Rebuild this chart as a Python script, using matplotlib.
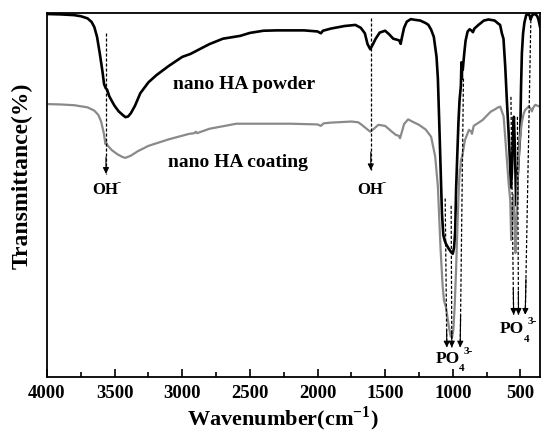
import matplotlib
matplotlib.use("Agg")
from matplotlib import pyplot as plt
from matplotlib.ticker import MultipleLocator

plt.rcParams['font.family'] = ['Liberation Serif', 'DejaVu Serif']
plt.rcParams['font.weight'] = 'bold'
plt.rcParams['mathtext.fontset'] = 'custom'
plt.rcParams['mathtext.rm'] = 'Liberation Serif:bold'
plt.rcParams['mathtext.bf'] = 'Liberation Serif:bold'

# FTIR spectra (wavenumber cm-1, transmittance in arbitrary %)
powder_wn = [4000, 3900, 3800, 3750, 3700, 3670, 3650, 3630, 3610, 3590, 3578, 3566, 3556,
             3540, 3520, 3500, 3470, 3440, 3420, 3400, 3380, 3350, 3310, 3250, 3190, 3100,
             3000, 2940, 2800, 2700, 2570, 2500, 2400, 2300, 2200, 2100, 2000, 1975, 1960,
             1900, 1800, 1720, 1680, 1650, 1630, 1610, 1590, 1570, 1540, 1500, 1470, 1440,
             1410, 1395, 1385, 1375, 1360, 1340, 1310, 1280, 1240, 1200, 1180, 1160, 1140,
             1120, 1110, 1100, 1090, 1080, 1070, 1060, 1050, 1030, 1015, 1000, 990, 982,
             975, 965, 958, 950, 940, 936, 933, 930, 926, 920, 915, 905, 890, 875, 860, 851,
             840, 810, 770, 735, 690, 665, 650, 637, 625, 612, 600, 587, 578, 570, 563, 555,
             548, 540, 533, 527, 520, 510, 501, 495, 489, 480, 470, 457, 440, 430, 425, 420,
             410, 390, 375, 366, 355]
powder_t = [99.8, 99.7, 99.5, 99.2, 98.6, 97.6, 96.2, 93.5, 89.0, 84.0, 80.5, 79.4, 79.0,
            77.2, 75.8, 74.5, 73.0, 72.0, 71.4, 71.6, 72.5, 74.5, 78.0, 81.0, 83.0, 85.5,
            88.0, 88.8, 91.5, 93.0, 93.8, 94.6, 95.2, 95.3, 95.3, 95.3, 95.0, 94.5, 95.2,
            95.8, 96.5, 96.8, 96.0, 94.5, 91.5, 90.1, 91.5, 93.0, 94.7, 95.2, 94.2, 93.0,
            92.7, 92.5, 91.6, 93.5, 96.0, 97.7, 98.4, 98.2, 98.0, 97.3, 96.8, 95.5, 93.5,
            88.0, 82.0, 70.0, 57.0, 45.0, 39.0, 37.5, 36.5, 35.2, 34.4, 33.8, 35.5, 40.0,
            52.0, 63.0, 70.0, 76.0, 80.0, 86.5, 82.0, 86.0, 84.5, 87.0, 89.0, 92.5, 95.0,
            95.6, 95.2, 94.8, 95.8, 96.8, 98.0, 98.3, 98.0, 97.2, 96.8, 94.5, 93.0, 85.3,
            76.0, 67.0, 60.0, 52.0, 56.0, 66.0, 71.5, 62.0, 50.0, 47.0, 55.0, 62.0, 67.0,
            80.0, 89.0, 94.5, 97.5, 99.5, 99.8, 99.2, 98.3, 98.8, 99.6, 99.8, 99.2, 98.2,
            96.3]

coating_wn = [4000, 3900, 3800, 3700, 3650, 3620, 3600, 3580, 3568, 3562, 3550, 3520, 3480,
              3440, 3420, 3380, 3330, 3250, 3100, 2950, 2910, 2900, 2890, 2800, 2600, 2400,
              2200, 2000, 1975, 1955, 1900, 1750, 1700, 1680, 1640, 1610, 1580, 1550, 1500,
              1450, 1420, 1400, 1390, 1375, 1360, 1330, 1300, 1250, 1200, 1160, 1130, 1110,
              1090, 1075, 1065, 1050, 1030, 1015, 1005, 995, 985, 975, 965, 955, 948, 945,
              940, 930, 910, 880, 865, 858, 845, 780, 720, 686, 670, 649, 624, 605, 587, 575,
              568, 560, 552, 545, 537, 530, 520, 505, 489, 475, 464, 440, 425, 415, 405, 390,
              370, 355]
coating_t = [75.0, 74.9, 74.7, 74.1, 73.2, 72.0, 70.2, 67.0, 64.0, 64.4, 63.5, 62.3, 61.2,
             60.4, 60.2, 60.8, 62.0, 63.5, 65.3, 66.8, 67.0, 67.4, 67.0, 68.2, 69.6, 69.6,
             69.6, 69.4, 69.0, 69.7, 69.9, 70.2, 70.0, 69.5, 68.3, 67.4, 68.3, 69.3, 69.0,
             67.4, 66.5, 66.3, 65.6, 67.5, 69.5, 70.8, 70.2, 69.3, 68.0, 66.0, 60.6, 52.3,
             35.0, 25.0, 21.0, 19.0, 14.0, 11.0, 10.8, 13.0, 20.0, 30.0, 42.0, 52.0, 57.0,
             56.5, 59.5, 60.6, 65.1, 67.9, 67.5, 66.8, 69.0, 70.6, 72.9, 73.6, 74.0, 74.3,
             71.6, 62.4, 53.2, 48.6, 37.6, 44.0, 50.0, 45.0, 34.0, 40.0, 55.0, 65.0, 70.0,
             72.5, 73.4, 74.3, 73.8, 73.0, 74.0, 74.8, 74.5, 74.3]

# dashed marker arrows: start (wn, T) -> tip (wn, T)
arrow_start = [(3564, 94.5), (1606, 98.6), (1056, 49), (1012, 47), (921, 82),
               (570, 77), (522, 71.5), (422, 99.5)]
arrow_tip = [(3564, 55.8), (1606, 56.8), (1044, 8), (1007, 8), (945, 8),
             (550, 17), (514, 17), (464, 17)]

fig = plt.figure(figsize=(5.41, 4.34), dpi=100)
ax = fig.add_axes([47 / 541, 1 - 376.5 / 434, 493 / 541, 363.2 / 434])

ax.plot(powder_wn, powder_t, color='black', lw=1.9)
ax.plot(coating_wn, coating_t, color='#8a8a8a', lw=1.6)

for (x0, y0), (x1, y1) in zip(arrow_start, arrow_tip):
    ax.plot([x0, x1], [y0, y1], color='black', lw=0.9, linestyle=(0, (2.5, 1.5)))
    f = 0.12
    ax.annotate('', xy=(x1, y1), xytext=(x1 + (x0 - x1) * f, y1 + (y0 - y1) * f),
                arrowprops=dict(arrowstyle='-|>', color='black', lw=0.8,
                                mutation_scale=9, shrinkA=0, shrinkB=0))

ax.text(3066, 80.3, 'nano HA powder', fontsize=14, fontweight='bold', va='center', ha='left')
ax.text(3107, 59.0, 'nano HA coating', fontsize=14, fontweight='bold', va='center', ha='left')

for x in [3571, 1614]:
    ax.text(x, 51.4, 'OH', fontsize=12, fontweight='bold', ha='center', va='center')
    ax.annotate('-', xy=(x, 51.4), xytext=(10, 5.5), textcoords='offset points',
                fontsize=9, fontweight='bold', ha='center', va='center')

for x, y in [(1040, 4.8), (563, 13.0)]:
    ax.text(x, y, 'PO', fontsize=12.5, fontweight='bold', ha='center', va='center')
    ax.annotate('4', xy=(x, y), xytext=(10.5, -7), textcoords='offset points',
                fontsize=8, fontweight='bold', ha='center', va='center')
    ax.annotate('3-', xy=(x, y), xytext=(15, 5.5), textcoords='offset points',
                fontsize=8, fontweight='bold', ha='center', va='center')

ax.set_xlim(4000, 355)
ax.set_ylim(0, 100)
ax.xaxis.set_major_locator(MultipleLocator(500))
ax.xaxis.set_minor_locator(MultipleLocator(250))
ax.tick_params(axis='x', which='both', direction='in', top=False, width=1.2, pad=6,
               labelsize=13.5)
ax.tick_params(axis='x', which='major', length=5.5)
ax.tick_params(axis='x', which='minor', length=3.5)
ax.tick_params(axis='y', which='both', left=False, labelleft=False)
for lab in ax.get_xticklabels():
    lab.set_fontweight('bold')
for s in ax.spines.values():
    s.set_linewidth(1.3)

fig.text(283 / 541, 1 - 419 / 434, r'Wavenumber(cm$^{\mathbf{-1}}$)', fontsize=16,
         fontweight='bold', ha='center', va='center')
fig.text(22 / 541, 1 - 176 / 434, 'Transmittance(%)', fontsize=17, fontweight='bold',
         rotation=90, ha='center', va='center')

fig.savefig('out.png', dpi=100)
